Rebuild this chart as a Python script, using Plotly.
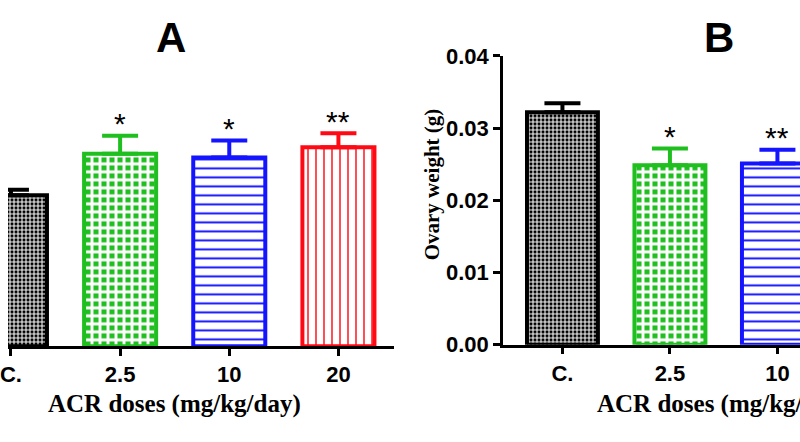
import plotly.graph_objects as go

# ---- data ----
groups_a = ["C.", "2.5", "10", "20"]
a_mean = [20.8, 26.5, 26.0, 27.4]
a_err = [0.75, 2.5, 2.35, 1.94]
a_sig = ["", "*", "*", "**"]

groups_b = ["C.", "2.5", "10"]
b_mean = [0.0322, 0.02484, 0.0251]
b_err = [0.00125, 0.00235, 0.0019]
b_sig = ["", "*", "**"]

colors = ["#000000", "#1fbf1f", "#1414ff", "#ff0a14"]
patterns = [
    dict(shape="+", fgcolor="white", bgcolor="#000000", size=4, solidity=0.45, fillmode="replace"),
    dict(shape="+", fgcolor="white", bgcolor="#1fbf1f", size=8, solidity=0.6, fillmode="replace"),
    dict(shape="-", fgcolor="#1414ff", bgcolor="white", size=9, solidity=0.22, fillmode="replace"),
    dict(shape="|", fgcolor="#ff0a14", bgcolor="white", size=8, solidity=0.18, fillmode="replace"),
]

W, H = 800, 442
TOP, BOT = 12, 430   # observed pixel extent of the paper area
def py(px):
    return (BOT - px) / (BOT - TOP)

fig = go.Figure()

for i, g in enumerate(groups_a):
    fig.add_trace(go.Bar(
        x=[g], y=[a_mean[i]], width=0.66, xaxis="x", yaxis="y",
        marker=dict(color=colors[i], pattern=patterns[i], line=dict(color=colors[i], width=4)),
        error_y=dict(type="data", symmetric=False, array=[a_err[i]], arrayminus=[0],
                     color=colors[i], thickness=4, width=18),
        showlegend=False,
    ))
for i, g in enumerate(groups_b):
    fig.add_trace(go.Bar(
        x=[g], y=[b_mean[i]], width=0.66, xaxis="x2", yaxis="y2",
        marker=dict(color=colors[i], pattern=patterns[i], line=dict(color=colors[i], width=4)),
        error_y=dict(type="data", symmetric=False, array=[b_err[i]], arrayminus=[0],
                     color=colors[i], thickness=4, width=18),
        showlegend=False,
    ))

tickfont = dict(family="Liberation Sans, Arial", size=22, color="black", weight="bold")
xtitlefont = dict(family="Liberation Serif, Times New Roman", size=25, color="black", weight="bold")
ytitlefont = dict(family="Liberation Serif, Times New Roman", size=21, color="black", weight="bold")
starfont = dict(family="Liberation Sans, Arial", size=30, color="black")

annotations = []
for i, s in enumerate(a_sig):
    if s:
        annotations.append(dict(x=i, y=a_mean[i] + a_err[i], xref="x", yref="y",
                                text=s, showarrow=False, yanchor="middle", yshift=12,
                                font=starfont))
for i, s in enumerate(b_sig):
    if s:
        annotations.append(dict(x=i, y=b_mean[i] + b_err[i], xref="x2", yref="y2",
                                text=s, showarrow=False, yanchor="middle", yshift=12,
                                font=starfont))
annotations += [
    dict(x=165 / W, y=py(38), xref="paper", yref="paper", text="A", showarrow=False,
         xanchor="center", yanchor="middle",
         font=dict(family="Liberation Sans, Arial", size=42, color="black", weight="bold")),
    dict(x=718 / W, y=py(38), xref="paper", yref="paper", text="B", showarrow=False,
         xanchor="center", yanchor="middle",
         font=dict(family="Liberation Sans, Arial", size=42, color="black", weight="bold")),
    dict(x=1.5, y=py(405), xref="x", yref="paper", text="ACR doses (mg/kg/day)", showarrow=False,
         xanchor="center", yanchor="middle", font=xtitlefont),
    dict(x=1.5, y=py(405), xref="x2", yref="paper", text="ACR doses (mg/kg/day)", showarrow=False,
         xanchor="center", yanchor="middle", font=xtitlefont),
    dict(x=428 / W, y=py(185), xref="paper", yref="paper", text="Ovary weight (g)",
         showarrow=False, textangle=-90, xanchor="center", yanchor="middle", font=ytitlefont),
]

axis_common = dict(showline=True, linecolor="black", linewidth=2.5, ticks="outside",
                   tickcolor="black", tickwidth=2.5, ticklen=7, showgrid=False, zeroline=False,
                   tickfont=tickfont)

fig.update_layout(
    width=W, height=H, margin=dict(l=0, r=0, t=0, b=0),
    paper_bgcolor="white", plot_bgcolor="white", bargap=0.3,
    xaxis=dict(domain=[0, 390 / W], range=[-0.027, 3.51], type="category",
               categoryorder="array", categoryarray=groups_a, anchor="y", **axis_common),
    yaxis=dict(domain=[py(347), py(56)], range=[0, 40], visible=False, anchor="x"),
    xaxis2=dict(domain=[500 / W, 1], range=[-0.553, 2.21], type="category",
                categoryorder="array", categoryarray=groups_b, anchor="y2", **axis_common),
    yaxis2=dict(domain=[py(345.5), py(56)], range=[0, 0.04], dtick=0.01, tickformat=".2f",
                anchor="x2", **axis_common),
    annotations=annotations,
)

fig.write_html("out.html")
